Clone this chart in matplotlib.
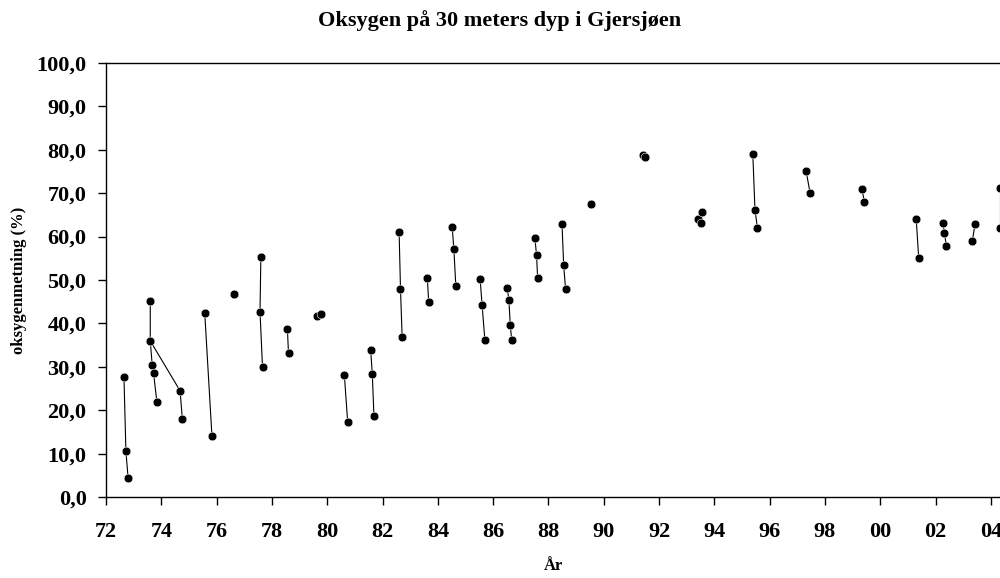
import matplotlib.pyplot as plt
import matplotlib.ticker as mticker

plt.rcParams['font.family'] = ['Liberation Serif', 'DejaVu Serif']
plt.rcParams['font.weight'] = 'bold'

# Målinger gruppert per prøvetakingsserie (år som 72..104, metning i %)
series_x = [
    [72.65, 72.72, 72.80],
    [73.60, 73.60, 73.67, 73.72, 73.84],
    [73.60, 74.68, 74.76],
    [75.57, 75.83],
    [76.63],
    [77.60, 77.57, 77.66],
    [78.56, 78.60],
    [79.62, 79.77],
    [80.62, 80.74],
    [81.57, 81.63, 81.69],
    [82.60, 82.65, 82.71],
    [83.62, 83.67],
    [84.52, 84.58, 84.65],
    [85.53, 85.60, 85.70],
    [86.51, 86.57, 86.62, 86.67],
    [87.51, 87.57, 87.61],
    [88.49, 88.55, 88.62],
    [89.55],
    [91.42, 91.50],
    [93.40, 93.51, 93.56],
    [95.39, 95.47, 95.56],
    [97.32, 97.46],
    [99.34, 99.42],
    [101.30, 101.39],
    [102.26, 102.32, 102.39],
    [103.33, 103.43],
    [104.32, 104.32],
]
series_y = [
    [27.6, 10.6, 4.4],
    [45.2, 36.0, 30.5, 28.6, 21.9],
    [36.0, 24.5, 18.0],
    [42.5, 14.2],
    [46.7],
    [55.3, 42.7, 29.9],
    [38.7, 33.1],
    [41.7, 42.2],
    [28.1, 17.3],
    [34.0, 28.4, 18.7],
    [61.0, 47.9, 36.8],
    [50.4, 44.9],
    [62.2, 57.1, 48.7],
    [50.2, 44.3, 36.3],
    [48.1, 45.4, 39.6, 36.3],
    [59.7, 55.7, 50.4],
    [63.0, 53.5, 47.9],
    [67.4],
    [78.7, 78.4],
    [64.0, 63.1, 65.7],
    [79.1, 66.0, 62.0],
    [75.0, 70.1],
    [71.0, 68.0],
    [64.0, 55.1],
    [63.2, 60.9, 57.8],
    [59.0, 63.0],
    [71.1, 62.0],
]

x_ticks = list(range(72, 105, 2))
x_labels = ['%02d' % (t % 100) for t in x_ticks]

fig = plt.figure(figsize=(10, 5.78), dpi=100)
ax = fig.add_axes([0.106, 0.1396, 0.894, 0.7519])

for xs, ys in zip(series_x, series_y):
    ax.plot(xs, ys, color='black', linewidth=0.8, marker='o', markersize=6.3,
            markerfacecolor='black', markeredgecolor='white', markeredgewidth=0.4)

ax.set_xlim(72, 104.33)
ax.set_ylim(0, 100)
ax.set_xticks(x_ticks)
ax.set_xticklabels(x_labels)
ax.yaxis.set_major_locator(mticker.MultipleLocator(10))
ax.yaxis.set_major_formatter(mticker.FuncFormatter(lambda v, p: ('%.1f' % v).replace('.', ',')))

ax.tick_params(axis='both', direction='out', length=6, width=1, labelsize=16)
ax.tick_params(axis='x', pad=12)
ax.tick_params(axis='y', pad=8)
ax.spines['right'].set_visible(False)
for s in ['left', 'top', 'bottom']:
    ax.spines[s].set_linewidth(1)

fig.text(0.5, 1 - 21 / 578, 'Oksygen på 30 meters dyp i Gjersjøen', fontsize=16,
         fontweight='bold', ha='center', va='center')
ax.set_xlabel('År', fontsize=12, fontweight='bold', labelpad=11)
ax.set_ylabel('oksygenmetning (%)', fontsize=12, fontweight='bold', labelpad=7)

fig.savefig('out.png', dpi=100)
